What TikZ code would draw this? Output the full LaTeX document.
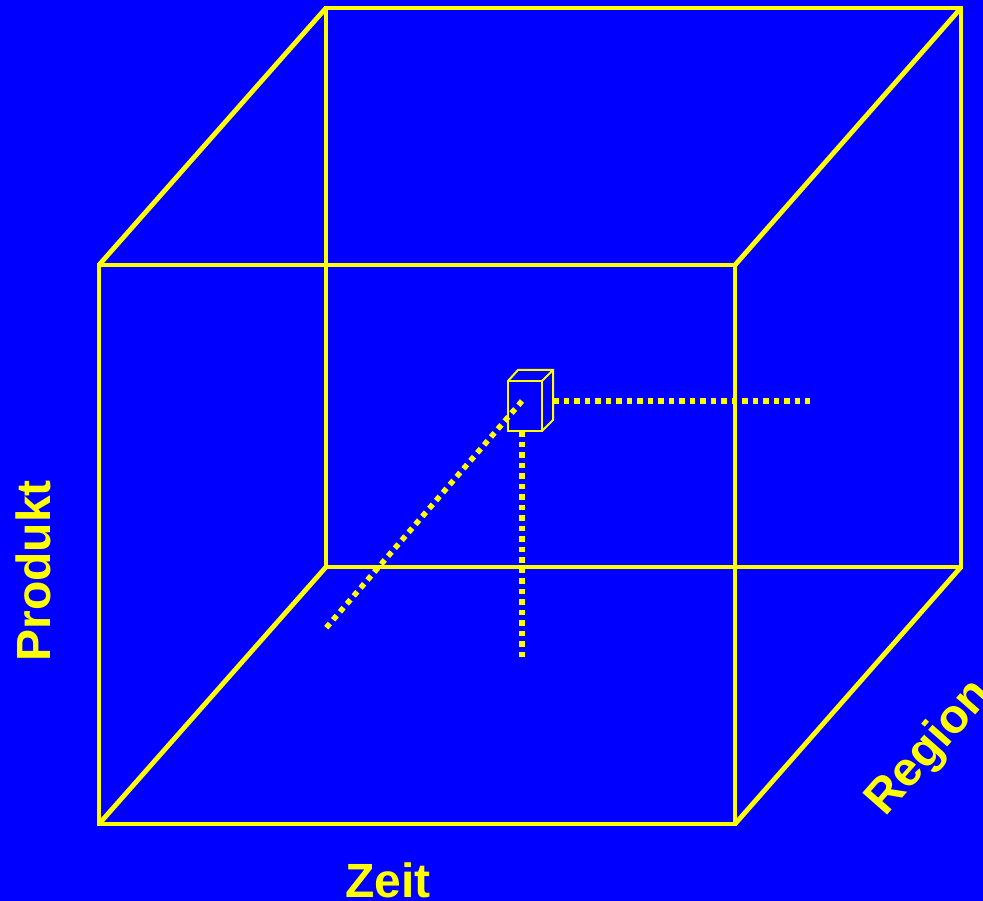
\documentclass[tikz,border=0pt]{standalone}
\usepackage{fontspec}
\setmainfont{Liberation Sans}
\definecolor{bg}{RGB}{0,0,255}
\definecolor{yel}{RGB}{255,255,0}
\begin{document}
\begin{tikzpicture}[x=1pt,y=-1pt,
  edge/.style={draw=yel,line width=4.8pt,line join=miter},
  small/.style={draw=yel,line width=2pt},
  dots/.style={draw=yel,line width=5.5pt,dash pattern=on 5.5pt off 5pt},
  lbl/.style={text=yel,font=\bfseries\fontsize{48}{48}\selectfont,inner sep=0pt}]
\fill[bg] (0,0) rectangle (983,901);
\useasboundingbox (0,0) rectangle (983,901);
% cube corners
\coordinate (f1) at (99,265); \coordinate (f2) at (735,265);
\coordinate (f3) at (735,824); \coordinate (f4) at (99,824);
\coordinate (b1) at (326,8); \coordinate (b2) at (961,8);
\coordinate (b3) at (961,567); \coordinate (b4) at (326,567);
\draw[edge] (b1) -- (b2) -- (b3) -- (b4) -- cycle;
\draw[edge] (f1) -- (f2) -- (f3) -- (f4) -- cycle;
\draw[edge] (f1) -- (b1) (f2) -- (b2) (f3) -- (b3) (f4) -- (b4);
% small cube
\coordinate (c1) at (508,381); \coordinate (c2) at (542,381);
\coordinate (c3) at (542,431); \coordinate (c4) at (508,431);
\coordinate (t1) at (518,370); \coordinate (t2) at (553,370);
\coordinate (t3) at (553,420);
\draw[small] (c1) -- (c2) -- (c3) -- (c4) -- cycle;
\draw[small] (c1) -- (t1) -- (t2) -- (t3) -- (c3);
\draw[small] (c2) -- (t2);
% dotted axes
\coordinate (s) at (522,401);
\coordinate (dx) at (810,401);
\coordinate (dy) at (522,657);
\coordinate (dz) at (326,628);
\draw[dots] (s) -- (dz);
\draw[dots] (553,401) -- (dx);
\draw[dots] (522,431) -- (dy);
% labels
\node[lbl] (zeit) at (388,880) {Zeit};
\node[lbl,rotate=90] (produkt) at (33,571) {Produkt};
\node[lbl,rotate=48.7] (region) at (930,748) {Region};
\end{tikzpicture}
\end{document}
